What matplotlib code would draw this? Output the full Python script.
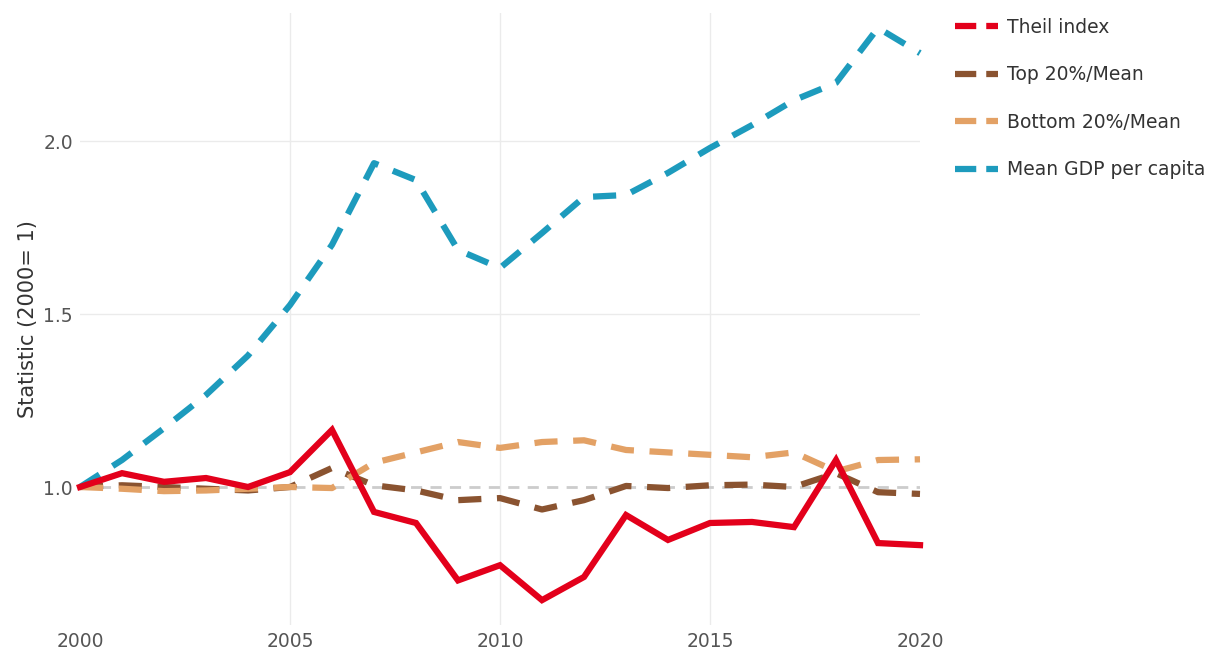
import matplotlib
matplotlib.use('Agg')
import matplotlib.pyplot as plt
from matplotlib.lines import Line2D

# Data (index, 2000 = 1)
years = list(range(2000, 2021))
theil = [1.00, 1.04, 1.015, 1.026, 1.00, 1.043, 1.165, 0.928, 0.896, 0.73, 0.774,
         0.673, 0.74, 0.919, 0.847, 0.896, 0.899, 0.884, 1.078, 0.838, 0.832]
top20 = [1.00, 1.005, 1.0, 0.995, 0.99, 1.0, 1.055, 1.005, 0.99, 0.962, 0.968,
         0.935, 0.962, 1.003, 0.997, 1.005, 1.007, 1.0, 1.04, 0.985, 0.98]
bottom20 = [1.00, 0.995, 0.988, 0.99, 0.995, 1.0, 0.997, 1.07, 1.10, 1.13, 1.113,
            1.13, 1.135, 1.107, 1.10, 1.093, 1.086, 1.10, 1.045, 1.078, 1.08]
mean_gdp = [1.00, 1.078, 1.17, 1.266, 1.38, 1.526, 1.70, 1.936, 1.887, 1.685, 1.633,
            1.734, 1.838, 1.844, 1.908, 1.98, 2.046, 2.118, 2.168, 2.327, 2.254]

series = [
    ("Theil index", theil, "#e3001b", None),
    ("Top 20%/Mean", top20, "#8a5330", (3.7, 2.5)),
    ("Bottom 20%/Mean", bottom20, "#e3a165", (3.7, 2.5)),
    ("Mean GDP per capita", mean_gdp, "#1d9bbd", (3.7, 2.5)),
]

fig = plt.figure(figsize=(12.07, 6.52), dpi=100)
ax = fig.add_axes([80 / 1207, 1 - 625.4 / 652, 840 / 1207, (625.4 - 13) / 652])

ax.set_xlim(2000, 2020)
ax.set_ylim(0.6, 2.37)

# grid
for x in [2005, 2010, 2015]:
    ax.axvline(x, color="#ebebeb", lw=1, zorder=0)
for y in [1.5, 2.0]:
    ax.axhline(y, color="#ebebeb", lw=1, zorder=0)
ax.axhline(1.0, color="#cccccc", lw=2, ls=(0, (4, 3)), zorder=1)

for name, vals, col, dash in series:
    if dash is None:
        ax.plot(years, vals, color=col, lw=4.5, solid_joinstyle="miter",
                clip_on=False, zorder=3)
    else:
        ax.plot(years, vals, color=col, lw=4.5, ls=(0, dash),
                dash_capstyle="butt", clip_on=False, zorder=2)

for s in ax.spines.values():
    s.set_visible(False)
ax.set_xticks([2000, 2005, 2010, 2015, 2020])
ax.set_yticks([1.0, 1.5, 2.0])
ax.set_yticklabels(["1.0", "1.5", "2.0"])
ax.tick_params(length=0, labelsize=13.5, labelcolor="#555555", pad=5)
ax.set_ylabel("Statistic (2000= 1)", fontsize=15, color="#333333", labelpad=4)

handles = []
for name, vals, col, dash in series:
    handles.append(Line2D([0], [0], color=col, lw=4.5,
                          ls=(0, (3.4, 1.6)), dash_capstyle="butt"))
fig.legend(handles, [s[0] for s in series], loc="upper left",
           bbox_to_anchor=(938 / 1207, 1 - 1 / 652), frameon=False,
           fontsize=13.5, handlelength=2.3, handletextpad=0.5,
           labelspacing=1.52, labelcolor="#333333")

fig.savefig("out.png", dpi=100, facecolor="white")
